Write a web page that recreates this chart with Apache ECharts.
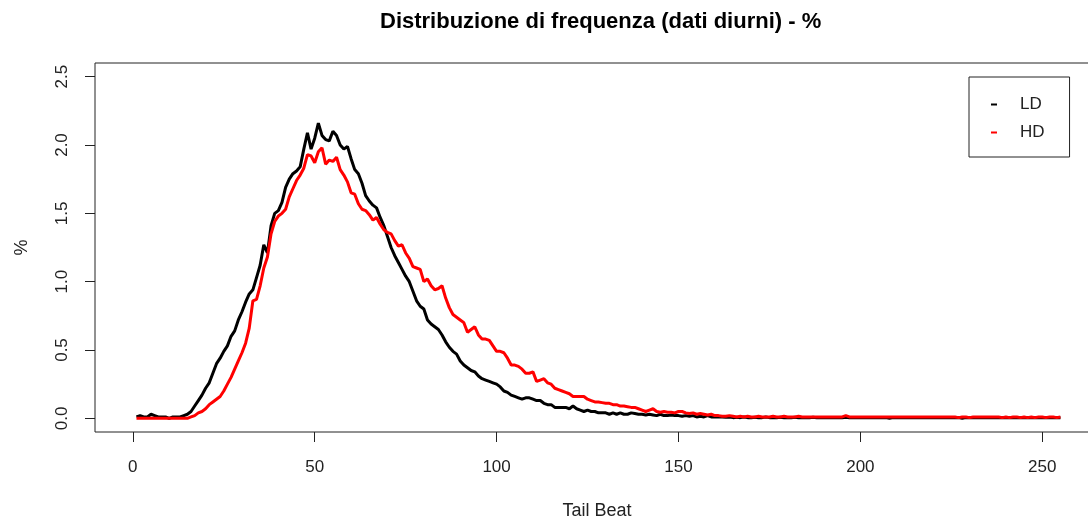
<!DOCTYPE html>
<html>
<head>
<meta charset="utf-8">
<script src="https://cdn.jsdelivr.net/npm/echarts@6/dist/echarts.min.js"></script>
<style>
html,body{margin:0;padding:0;background:#fff;}
#chart{width:1088px;height:519px;}
</style>
</head>
<body>
<div id="chart"></div>
<script>
// Tail beat values (x), 1..255
var tailBeatCount = 255;
var xTicks = [0, 50, 100, 150, 200, 250];
var yTicks = [0, 0.5, 1.0, 1.5, 2.0, 2.5];
var seriesNames = ['LD', 'HD'];

var ldValues = [
0.01,0.02,0.01,0.01,0.03,0.02,0.01,0.01,0.01,0.00,
0.01,0.01,0.01,0.02,0.03,0.05,0.09,0.13,0.17,0.22,
0.26,0.33,0.40,0.44,0.49,0.53,0.60,0.64,0.72,0.78,
0.85,0.91,0.94,1.03,1.12,1.27,1.21,1.41,1.50,1.52,
1.58,1.69,1.75,1.79,1.81,1.84,1.97,2.09,1.97,2.05,
2.16,2.07,2.04,2.03,2.10,2.07,2.00,1.97,1.99,1.90,
1.82,1.79,1.72,1.63,1.59,1.56,1.54,1.47,1.41,1.33,
1.25,1.19,1.14,1.09,1.04,1.00,0.93,0.86,0.82,0.80,
0.72,0.69,0.67,0.65,0.61,0.56,0.52,0.49,0.47,0.42,
0.39,0.37,0.35,0.34,0.31,0.29,0.28,0.27,0.26,0.25,
0.23,0.20,0.19,0.17,0.16,0.15,0.14,0.15,0.15,0.14,
0.13,0.13,0.11,0.10,0.10,0.08,0.08,0.08,0.08,0.07,
0.09,0.07,0.06,0.05,0.06,0.05,0.05,0.04,0.04,0.04,
0.03,0.04,0.03,0.04,0.03,0.03,0.04,0.035,0.03,0.03,
0.025,0.03,0.025,0.02,0.03,0.02,0.02,0.025,0.02,0.02,
0.015,0.02,0.015,0.02,0.01,0.015,0.01,0.02,0.01,0.01,
0.01,0.01,0.008,0.01,0.005,0.008,0.005,0.01,0.005,0.005,
0.008,0.005,0.005,0.01,0.005,0.005,0.005,0.008,0.005,0.005,
0.005,0.008,0.005,0.005,0.005,0.005,0.008,0.005,0.005,0.005,
0.005,0.005,0.005,0.005,0.005,0.008,0.005,0.005,0.005,0.005,
0.005,0.005,0.005,0.005,0.005,0.005,0.005,0.0,0.005,0.005,
0.005,0.005,0.005,0.005,0.005,0.005,0.005,0.005,0.005,0.005,
0.005,0.005,0.005,0.005,0.005,0.005,0.005,0.0,0.005,0.005,
0.005,0.005,0.005,0.005,0.005,0.005,0.005,0.005,0.005,0.005,
0.005,0.005,0.005,0.005,0.005,0.005,0.005,0.005,0.005,0.005,
0.005,0.005,0.005,0.005,0.005
];

var hdValues = [
0,0,0,0,0,0,0,0,0,0,
0,0,0,0,0,0.01,0.02,0.04,0.05,0.07,
0.10,0.12,0.14,0.16,0.20,0.25,0.30,0.36,0.42,0.48,
0.55,0.66,0.86,0.87,0.97,1.10,1.18,1.35,1.44,1.48,
1.50,1.53,1.62,1.68,1.74,1.78,1.83,1.93,1.92,1.87,
1.95,1.98,1.86,1.89,1.88,1.91,1.82,1.78,1.73,1.65,
1.64,1.57,1.53,1.52,1.49,1.45,1.47,1.42,1.38,1.36,
1.35,1.30,1.26,1.27,1.21,1.17,1.11,1.10,1.09,1.00,
1.02,0.97,0.94,0.95,0.97,0.88,0.81,0.76,0.74,0.72,
0.70,0.63,0.65,0.67,0.61,0.58,0.58,0.57,0.53,0.49,
0.49,0.48,0.44,0.39,0.39,0.38,0.36,0.33,0.33,0.34,
0.27,0.28,0.29,0.26,0.25,0.22,0.21,0.20,0.19,0.18,
0.16,0.16,0.16,0.16,0.14,0.13,0.12,0.12,0.115,0.11,
0.11,0.10,0.10,0.09,0.09,0.085,0.08,0.08,0.07,0.06,
0.05,0.06,0.07,0.05,0.045,0.05,0.045,0.045,0.04,0.05,
0.05,0.04,0.035,0.04,0.03,0.035,0.03,0.025,0.03,0.02,
0.02,0.015,0.015,0.02,0.015,0.01,0.015,0.01,0.015,0.01,
0.01,0.015,0.01,0.01,0.01,0.015,0.01,0.01,0.015,0.01,
0.01,0.01,0.015,0.01,0.01,0.01,0.01,0.01,0.01,0.01,
0.01,0.01,0.01,0.01,0.01,0.02,0.01,0.01,0.01,0.01,
0.01,0.01,0.01,0.01,0.01,0.01,0.01,0.01,0.01,0.01,
0.01,0.01,0.01,0.01,0.01,0.01,0.01,0.01,0.01,0.01,
0.01,0.01,0.01,0.01,0.01,0.01,0.005,0.01,0.01,0.005,
0.01,0.01,0.01,0.01,0.01,0.01,0.01,0.01,0.005,0.01,
0.005,0.01,0.01,0.005,0.01,0.005,0.01,0.005,0.01,0.01,
0.005,0.01,0.01,0.005,0.01
];

function pairs(vals) {
  var out = [];
  for (var i = 0; i < vals.length; i++) out.push([i + 1, vals[i]]);
  return out;
}

var FONT = '"Liberation Sans", Arial, sans-serif';
var chart = echarts.init(document.getElementById('chart'), null, {renderer: 'canvas'});
chart.setOption({
  animation: false,
  backgroundColor: '#fff',
  title: {
    text: 'Distribuzione di frequenza (dati diurni) - %',
    left: 375, top: 6,
    textStyle: {fontFamily: FONT, fontWeight: 'bold', fontSize: 22, color: '#000'}
  },
  legend: {
    data: seriesNames,
    orient: 'vertical',
    left: 969, top: 77,
    padding: [19, 25, 16, 22],
    itemGap: 11,
    itemWidth: 6, itemHeight: 2,
    icon: 'rect',
    borderColor: '#222', borderWidth: 1,
    textStyle: {fontFamily: FONT, fontSize: 17, color: '#222', padding: [0, 0, 0, 18]}
  },
  grid: {
    left: 95, right: -11, top: 63, bottom: 87,
    outerBoundsMode: 'none',
    containLabel: false,
    show: true, borderColor: '#222', borderWidth: 1, backgroundColor: 'transparent'
  },
  xAxis: {
    type: 'value',
    min: -10.4, max: 265.6,
    name: 'Tail Beat',
    nameLocation: 'middle',
    nameGap: 70,
    nameTextStyle: {fontFamily: FONT, fontSize: 18, color: '#222'},
    axisLine: {show: false, onZero: false},
    axisTick: {show: true, inside: false, length: 10, lineStyle: {color: '#222'}, customValues: xTicks},
    axisLabel: {fontFamily: FONT, fontSize: 17, color: '#222', margin: 27, customValues: xTicks},
    splitLine: {show: false}
  },
  yAxis: {
    type: 'value',
    min: -0.1, max: 2.6,
    name: '%',
    nameLocation: 'middle',
    nameGap: 64,
    nameRotate: 90,
    nameTextStyle: {fontFamily: FONT, fontSize: 18, color: '#222'},
    axisLine: {show: false, onZero: false},
    axisTick: {show: true, inside: false, length: 10, lineStyle: {color: '#222'}, customValues: yTicks},
    axisLabel: {fontFamily: FONT, fontSize: 17, color: '#222', margin: 24, rotate: 90,
      customValues: yTicks,
      formatter: function (v) { return v.toFixed(1); }},
    splitLine: {show: false}
  },
  series: [
    {name: seriesNames[0], type: 'line', data: pairs(ldValues), showSymbol: false, symbol: 'none',
     color: '#000', lineStyle: {color: '#000', width: 3}, z: 2},
    {name: seriesNames[1], type: 'line', data: pairs(hdValues), showSymbol: false, symbol: 'none',
     color: '#ff0000', lineStyle: {color: '#ff0000', width: 3}, z: 3}
  ]
});
</script>
</body>
</html>
